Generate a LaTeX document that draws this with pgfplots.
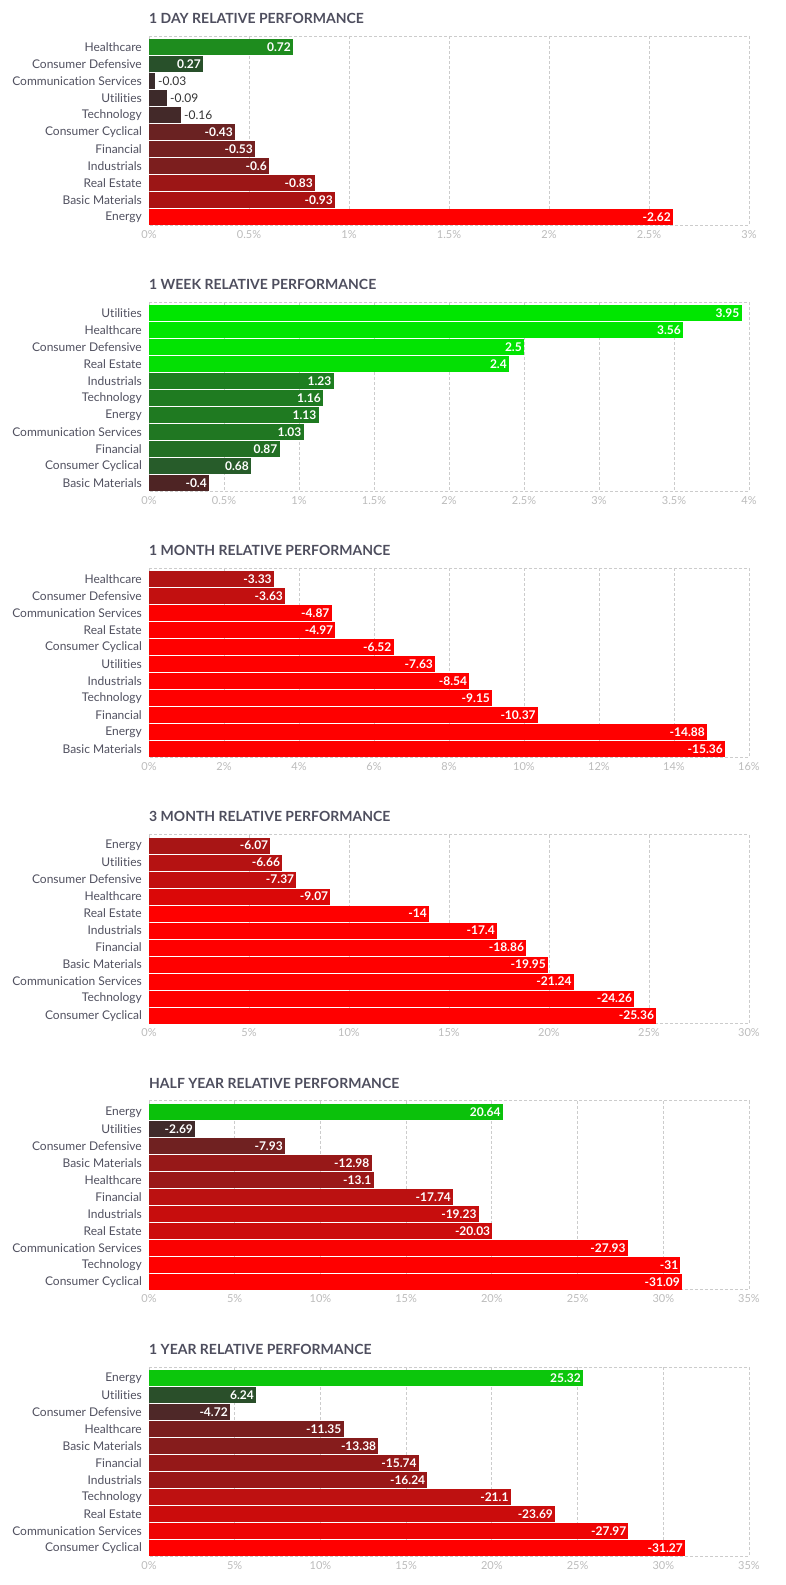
\documentclass[border=0pt]{standalone}
\usepackage{fontspec}
\setmainfont{Lato}[Ligatures=NoCommon]
\usepackage{pgfplots}
\pgfplotsset{compat=1.18}

\definecolor{gridc}{HTML}{CCCCCC}
\definecolor{tickc}{HTML}{BBBBBB}
\definecolor{labc}{HTML}{50505F}
\definecolor{titc}{HTML}{4E4E5E}
\definecolor{outc}{HTML}{333333}

\tikzset{
  lin/.style={anchor=east, xshift=-2pt, inner sep=0pt, text=white, font=\fontsize{12}{14}\selectfont\bfseries},
  lout/.style={anchor=west, xshift=3pt, inner sep=0pt, text=outc, font=\fontsize{12}{14}\selectfont},
}

% one bar: |value|, row, colour (hex), printed value, label style
\newcommand\hb[5]{%
  \xglobal\definecolor{c#3}{HTML}{#3}%
  \addplot[xbar, bar width=16pt, bar shift=0pt, draw=none, fill=c#3,
    point meta=explicit symbolic, nodes near coords,
    every node near coord/.append style={#5}]
    coordinates {(#1,#2) [#4]};
}

\pgfplotsset{
  panel/.style={
    scale only axis, width=600pt, height=189pt, anchor=north west,
    xmin=0, ymin=-0.647, ymax=10.4706, y dir=reverse,
    ytick={0,...,10}, major tick length=0pt,
    xmajorgrids,
    major grid style={draw=gridc, dash pattern=on 3pt off 2pt, line width=0.8pt},
    axis line style={draw=gridc, dash pattern=on 3pt off 2pt, line width=0.8pt},
    yticklabel style={inner sep=0pt, xshift=-7pt, text=labc, font=\fontsize{12}{14}\selectfont},
    xticklabel style={inner sep=0pt, yshift=-5pt, text=tickc, font=\fontsize{11}{13}\selectfont},
    title style={at={(0,1)}, anchor=base west, yshift=6.7pt, inner sep=0pt,
      text=titc, font=\fontsize{14}{16}\selectfont\bfseries},
    clip=false,
  },
}

\begin{document}
\begin{tikzpicture}
\path[use as bounding box] (0,0) rectangle (785pt,-1585pt);

% 1 day
\begin{axis}[panel, at={(149pt,-36pt)}, title={1 DAY RELATIVE PERFORMANCE},
  xmax=3, xtick={0,0.5,...,3},
  xticklabels={0\%,0.5\%,1\%,1.5\%,2\%,2.5\%,3\%},
  yticklabels={Healthcare,Consumer Defensive,Communication Services,Utilities,Technology,Consumer Cyclical,Financial,Industrials,Real Estate,Basic Materials,Energy}]
\hb{0.72}{0}{1E8C1E}{0.72}{lin}
\hb{0.27}{1}{28502A}{0.27}{lin}
\hb{0.03}{2}{3A2C2C}{-0.03}{lout}
\hb{0.09}{3}{3D2A2A}{-0.09}{lout}
\hb{0.16}{4}{432929}{-0.16}{lout}
\hb{0.43}{5}{6A2222}{-0.43}{lin}
\hb{0.53}{6}{742020}{-0.53}{lin}
\hb{0.6}{7}{7C1E1E}{-0.6}{lin}
\hb{0.83}{8}{9C1616}{-0.83}{lin}
\hb{0.93}{9}{AB1212}{-0.93}{lin}
\hb{2.62}{10}{FF0000}{-2.62}{lin}
\end{axis}

% 1 week
\begin{axis}[panel, at={(149pt,-302.2pt)}, title={1 WEEK RELATIVE PERFORMANCE},
  xmax=4, xtick={0,0.5,...,4},
  xticklabels={0\%,0.5\%,1\%,1.5\%,2\%,2.5\%,3\%,3.5\%,4\%},
  yticklabels={Utilities,Healthcare,Consumer Defensive,Real Estate,Industrials,Technology,Energy,Communication Services,Financial,Consumer Cyclical,Basic Materials}]
\hb{3.95}{0}{00E600}{3.95}{lin}
\hb{3.56}{1}{00E600}{3.56}{lin}
\hb{2.5}{2}{02E402}{2.5}{lin}
\hb{2.4}{3}{04DF04}{2.4}{lin}
\hb{1.23}{4}{1E7E20}{1.23}{lin}
\hb{1.16}{5}{1F7B21}{1.16}{lin}
\hb{1.13}{6}{1F7A21}{1.13}{lin}
\hb{1.03}{7}{207722}{1.03}{lin}
\hb{0.87}{8}{226F24}{0.87}{lin}
\hb{0.68}{9}{275C2A}{0.68}{lin}
\hb{0.4}{10}{4E2424}{-0.4}{lin}
\end{axis}

% 1 month
\begin{axis}[panel, at={(149pt,-568.4pt)}, title={1 MONTH RELATIVE PERFORMANCE},
  xmax=16, xtick={0,2,...,16},
  xticklabels={0\%,2\%,4\%,6\%,8\%,10\%,12\%,14\%,16\%},
  yticklabels={Healthcare,Consumer Defensive,Communication Services,Real Estate,Consumer Cyclical,Utilities,Industrials,Technology,Financial,Energy,Basic Materials}]
\hb{3.33}{0}{B11414}{-3.33}{lin}
\hb{3.63}{1}{C21010}{-3.63}{lin}
\hb{4.87}{2}{FC0000}{-4.87}{lin}
\hb{4.97}{3}{FE0000}{-4.97}{lin}
\hb{6.52}{4}{FF0000}{-6.52}{lin}
\hb{7.63}{5}{FF0000}{-7.63}{lin}
\hb{8.54}{6}{FF0000}{-8.54}{lin}
\hb{9.15}{7}{FF0000}{-9.15}{lin}
\hb{10.37}{8}{FF0000}{-10.37}{lin}
\hb{14.88}{9}{FF0000}{-14.88}{lin}
\hb{15.36}{10}{FF0000}{-15.36}{lin}
\end{axis}

% 3 month
\begin{axis}[panel, at={(149pt,-834.6pt)}, title={3 MONTH RELATIVE PERFORMANCE},
  xmax=30, xtick={0,5,...,30},
  xticklabels={0\%,5\%,10\%,15\%,20\%,25\%,30\%},
  yticklabels={Energy,Utilities,Consumer Defensive,Healthcare,Real Estate,Industrials,Financial,Basic Materials,Communication Services,Technology,Consumer Cyclical}]
\hb{6.07}{0}{A81515}{-6.07}{lin}
\hb{6.66}{1}{B51212}{-6.66}{lin}
\hb{7.37}{2}{C20F0F}{-7.37}{lin}
\hb{9.07}{3}{DA0808}{-9.07}{lin}
\hb{14}{4}{FF0000}{-14}{lin}
\hb{17.4}{5}{FF0000}{-17.4}{lin}
\hb{18.86}{6}{FF0000}{-18.86}{lin}
\hb{19.95}{7}{FF0000}{-19.95}{lin}
\hb{21.24}{8}{FF0000}{-21.24}{lin}
\hb{24.26}{9}{FF0000}{-24.26}{lin}
\hb{25.36}{10}{FF0000}{-25.36}{lin}
\end{axis}

% half year
\begin{axis}[panel, at={(149pt,-1100.8pt)}, title={HALF YEAR RELATIVE PERFORMANCE},
  xmax=35, xtick={0,5,...,35},
  xticklabels={0\%,5\%,10\%,15\%,20\%,25\%,30\%,35\%},
  yticklabels={Energy,Utilities,Consumer Defensive,Basic Materials,Healthcare,Financial,Industrials,Real Estate,Communication Services,Technology,Consumer Cyclical}]
\hb{20.64}{0}{0BC10B}{20.64}{lin}
\hb{2.69}{1}{402A2A}{-2.69}{lin}
\hb{7.93}{2}{702121}{-7.93}{lin}
\hb{12.98}{3}{971818}{-12.98}{lin}
\hb{13.1}{4}{9A1818}{-13.1}{lin}
\hb{17.74}{5}{BB1111}{-17.74}{lin}
\hb{19.23}{6}{C70D0D}{-19.23}{lin}
\hb{20.03}{7}{CC0C0C}{-20.03}{lin}
\hb{27.93}{8}{FA0101}{-27.93}{lin}
\hb{31}{9}{FF0000}{-31}{lin}
\hb{31.09}{10}{FF0000}{-31.09}{lin}
\end{axis}

% 1 year
\begin{axis}[panel, at={(149pt,-1367pt)}, title={1 YEAR RELATIVE PERFORMANCE},
  xmax=35, xtick={0,5,...,35},
  xticklabels={0\%,5\%,10\%,15\%,20\%,25\%,30\%,35\%},
  yticklabels={Energy,Utilities,Consumer Defensive,Healthcare,Basic Materials,Financial,Industrials,Technology,Real Estate,Communication Services,Consumer Cyclical}]
\hb{25.32}{0}{0CC60C}{25.32}{lin}
\hb{6.24}{1}{2A4F2A}{6.24}{lin}
\hb{4.72}{2}{4E2828}{-4.72}{lin}
\hb{11.35}{3}{7A1E1E}{-11.35}{lin}
\hb{13.38}{4}{861C1C}{-13.38}{lin}
\hb{15.74}{5}{951818}{-15.74}{lin}
\hb{16.24}{6}{991717}{-16.24}{lin}
\hb{21.1}{7}{BE1111}{-21.1}{lin}
\hb{23.69}{8}{CB0C0C}{-23.69}{lin}
\hb{27.97}{9}{EE0404}{-27.97}{lin}
\hb{31.27}{10}{FF0000}{-31.27}{lin}
\end{axis}
\end{tikzpicture}
\end{document}
